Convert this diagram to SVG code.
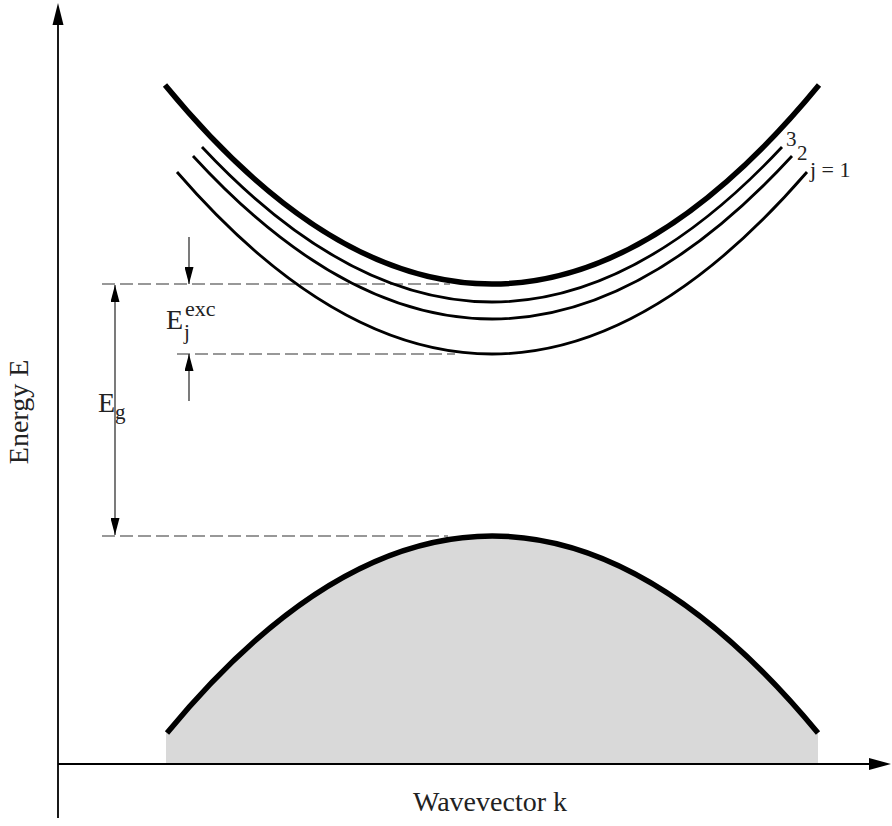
<svg xmlns="http://www.w3.org/2000/svg" width="892" height="826" viewBox="0 0 892 826">
<style>
.lbl{font-family:"Liberation Serif","Times New Roman",serif;fill:#222}
.thick{fill:none;stroke:#000;stroke-width:5.5}
.thin{fill:none;stroke:#000;stroke-width:2.8}
.dash{fill:none;stroke:#777;stroke-width:1.5;stroke-dasharray:13 5}
.dim{stroke:#333;stroke-width:1.3}
</style>
<defs>
<marker id="dh" markerWidth="17" markerHeight="9" refX="17" refY="4.5" orient="auto" markerUnits="userSpaceOnUse" viewBox="0 0 17 9">
<path d="M0,0 L17,4.5 L0,9 Z" fill="#000"/>
</marker>
</defs>
<g id="valence-fill">
<path d="M166,764 L166,733 Q492,339 818,733 L818,764 Z" fill="#d9d9d9"/>
</g>
<g id="axes">
<line x1="58" y1="818" x2="58" y2="24" stroke="#000" stroke-width="1.8"/>
<path d="M58,3 L52.5,25 L63.5,25 Z" fill="#000"/>
<line x1="58" y1="764" x2="871" y2="764" stroke="#000" stroke-width="1.8"/>
<path d="M891,764 L869,758 L869,770 Z" fill="#000"/>
</g>
<g id="connectors">
<line class="dash" x1="102" y1="284" x2="450" y2="284"/>
<line class="dash" x1="177" y1="354" x2="455" y2="354"/>
<line class="dash" x1="102" y1="536" x2="448" y2="536"/>
<line class="dim" x1="115" y1="410" x2="115" y2="285" marker-end="url(#dh)"/>
<line class="dim" x1="115" y1="410" x2="115" y2="535" marker-end="url(#dh)"/>
<line class="dim" x1="189" y1="237" x2="189" y2="284" marker-end="url(#dh)"/>
<line class="dim" x1="189" y1="401" x2="189" y2="354" marker-end="url(#dh)"/>
</g>
<g id="conduction-band">
<path class="thick" d="M165,85 Q492,483 819,85"/>
</g>
<g id="exciton-j3">
<path class="thin" d="M202,147 Q492,457 782,147"/>
<text class="lbl" x="786" y="146" font-size="21">3</text>
</g>
<g id="exciton-j2">
<path class="thin" d="M193,156 Q492,482 792,156"/>
<text class="lbl" x="797" y="160" font-size="21">2</text>
</g>
<g id="exciton-j1">
<path class="thin" d="M177,172 Q492,536 807,172"/>
<text class="lbl" x="810" y="177" font-size="22">j = 1</text>
</g>
<g id="valence-band">
<path class="thick" d="M167,733 Q492,339 818,733"/>
</g>
<g id="label-Eg">
<text class="lbl" x="98" y="412" font-size="28">E<tspan font-size="21" dy="7">g</tspan></text>
</g>
<g id="label-Eexc">
<text class="lbl" x="166" y="329" font-size="28">E</text>
<text class="lbl" x="184" y="339" font-size="21">j</text>
<text class="lbl" x="185" y="316" font-size="22">exc</text>
</g>
<g id="axis-labels">
<text class="lbl" x="490" y="811" font-size="28" text-anchor="middle">Wavevector k</text>
<text class="lbl" transform="translate(28,412) rotate(-90)" font-size="28" text-anchor="middle">Energy E</text>
</g>
</svg>
